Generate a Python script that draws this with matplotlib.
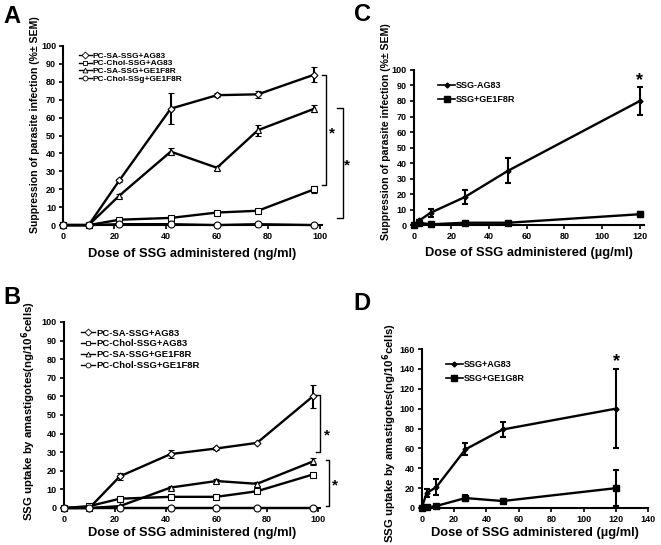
import matplotlib
matplotlib.use("Agg")
import matplotlib.pyplot as plt
from matplotlib.lines import Line2D

plt.rcParams['font.family'] = ['Liberation Sans', 'DejaVu Sans']
plt.rcParams['font.weight'] = 'bold'
plt.rcParams['mathtext.default'] = 'bf'

# panel A / B doses (ng/ml)
dose_ng = [0, 10, 22, 42, 60, 76, 98]
# panel C / D doses (ug/ml)
dose_ug = [0, 3, 9, 27, 50, 120]

# A: suppression of parasite infection
a_sa_ag = [0, 0, 25, 65, 72.5, 73, 84]
a_sa_ag_err = [0, 0, 0.8, 8.5, 1, 2, 4]
a_chol_ag = [0, 0, 3, 4, 7, 8, 20]
a_chol_ag_err = [0, 0, 0, 0, 0, 0, 2]
a_sa_ge = [0, 0, 16.5, 41, 32, 53, 65]
a_sa_ge_err = [0, 0, 0.8, 2, 1, 3, 2]
a_chol_ge = [0, 0, 0.5, 0.5, 0, 0.5, 0]

# B: SSG uptake
b_sa_ag = [0, 0, 17, 29, 32, 35, 60]
b_sa_ag_err = [0, 0, 2, 2, 1, 0, 6]
b_chol_ag = [0, 1, 5, 6, 6, 9, 18]
b_sa_ge = [0, 0, 1, 11, 14.5, 13, 25]
b_sa_ge_err = [0, 0, 0, 1, 1, 1, 2]
b_chol_ge = [0, 0, 0, 0, 0, 0, 0]

# C: free SSG suppression
c_ag = [0, 3, 8, 18, 35, 80]
c_ag_err = [0, 0, 2.5, 4.5, 8, 9]
c_ge = [0, 1.5, 0.5, 1.5, 1.5, 7]
c_ge_err = [0, 0, 0, 0, 0, 1.5]

# D: free SSG uptake
d_ag = [0, 15, 21, 59, 79, 100]
d_ag_err = [0, 4, 8, 6, 8, 40]
d_ge = [0, 0.5, 2, 10, 7, 20]
d_ge_err = [0, 0, 0, 3, 2, 18]

leg_a = ['PC-SA-SSG+AG83', 'PC-Chol-SSG+AG83', 'PC-SA-SSG+GE1F8R', 'PC-Chol-SSg+GE1F8R']
leg_b = ['PC-SA-SSG+AG83', 'PC-Chol-SSG+AG83', 'PC-SA-SSG+GE1F8R', 'PC-Chol-SSG+GE1F8R']
leg_c = ['SSG-AG83', 'SSG+GE1F8R']
leg_d = ['SSG+AG83', 'SSG+GE1G8R']

xlab_ng = 'Dose of SSG administered (ng/ml)'
xlab_ug = 'Dose of SSG administered (\u00b5g/ml)'
ylab_sup = 'Suppression of parasite infection (%\u00b1 SEM)'
ylab_up = 'SSG uptake by amastigotes(ng/10$^{6}$cells)'

fig = plt.figure(figsize=(6.61, 5.45), dpi=100)
axA = fig.add_axes([0.0953, 0.587, 0.392, 0.3287])
axC = fig.add_axes([0.626, 0.587, 0.3476, 0.2846])
axB = fig.add_axes([0.0968, 0.0679, 0.388, 0.3413])
axD = fig.add_axes([0.638, 0.0679, 0.343, 0.2917])

ebkw = dict(color='black', lw=1.7, capsize=2.5, elinewidth=1.5, capthick=1.5)


def style(ax):
    for s in ['top', 'right']:
        ax.spines[s].set_visible(False)
    for s in ['left', 'bottom']:
        ax.spines[s].set_linewidth(1.5)
    ax.tick_params(direction='out', length=3, width=1.2, labelsize=6.5, pad=2)
    for t in ax.get_xticklabels() + ax.get_yticklabels():
        t.set_fontweight('bold')


def liposome_panel(ax, ys, errs, labels, ylab, ylsize, lfs, spacing, xpad):
    markers = ['D', 's', '^', 'o']
    sizes = [3.5, 5, 5, 5]
    handles = []
    for y, e, lab, m, ms in zip(ys, errs, labels, markers, sizes):
        ax.errorbar(dose_ng, y, yerr=e, marker=m, ms=ms, mfc='white', mec='black',
                    mew=0.8, clip_on=False, zorder=3, **ebkw)
        handles.append(Line2D([], [], color='black', lw=1, marker=m, ms=3.5,
                              mfc='white', mec='black', mew=0.6, label=lab))
    ax.set_xlim(0, 101)
    ax.set_ylim(0, 100)
    ax.set_xticks(range(0, 101, 20))
    ax.set_yticks(range(0, 101, 10))
    ax.set_xlabel(xlab_ng, fontsize=9.3, fontweight='bold', labelpad=xpad)
    ax.set_ylabel(ylab, fontsize=ylsize, fontweight='bold')
    ax.legend(handles=handles, loc='upper left', bbox_to_anchor=(0.04, 1.0), frameon=False,
              fontsize=lfs, handlelength=1.5, handletextpad=0.1, labelspacing=spacing,
              borderaxespad=0.3)
    style(ax)


def bracket(ax, x0, x1, y0, y1, xs, ys):
    ax.plot([x0, x1, x1, x0], [y1, y1, y0, y0], color='black', lw=1, clip_on=False)
    ax.text(xs, ys, '*', fontsize=11, fontweight='bold', ha='center', va='center')


def free_panel(ax, y1, e1, y2, e2, labels, xpad):
    ax.errorbar(dose_ug, y1, yerr=e1, marker='D', ms=2.5, mfc='black', mec='black',
                clip_on=False, zorder=3, **ebkw)
    ax.errorbar(dose_ug, y2, yerr=e2, marker='s', ms=5, mfc='black', mec='black',
                clip_on=False, zorder=3, **ebkw)
    handles = [Line2D([], [], color='black', lw=1.2, marker='D', ms=2.5, label=labels[0]),
               Line2D([], [], color='black', lw=1.2, marker='s', ms=4, label=labels[1])]
    ax.legend(handles=handles, loc='upper left', bbox_to_anchor=(0.07, 0.98), frameon=False,
              fontsize=6.5, handlelength=1.9, handletextpad=0.1, labelspacing=0.55)
    ax.set_xlabel(xlab_ug, fontsize=9.3, fontweight='bold', labelpad=xpad)


# A
liposome_panel(axA, [a_sa_ag, a_chol_ag, a_sa_ge, a_chol_ge],
               [a_sa_ag_err, a_chol_ag_err, a_sa_ge_err, None], leg_a, ylab_sup, 7.6, 6, 0.0, 5)
bracket(axA, 100.8, 102.7, 22.3, 83.8, 105, 51)
bracket(axA, 107, 109, 3.9, 65.4, 110.8, 33.5)
axA.yaxis.set_label_coords(-0.09, 0.56)
fig.text(0.005, 0.99, 'A', fontsize=17, fontweight='bold', va='top')

# B
liposome_panel(axB, [b_sa_ag, b_chol_ag, b_sa_ge, b_chol_ge],
               [b_sa_ag_err, None, b_sa_ge_err, None], leg_b, ylab_up, 8.2, 6.8, 0.2, 2)
bracket(axB, 99.2, 100.8, 30.1, 60.8, 103.5, 39)
bracket(axB, 103, 104.5, 1.1, 25.8, 106.8, 12)
axB.yaxis.set_label_coords(-0.1, 0.52)
fig.text(0.005, 0.475, 'B', fontsize=17, fontweight='bold', va='top')

# C
free_panel(axC, c_ag, c_ag_err, c_ge, c_ge_err, leg_c, 4)
axC.text(120, 93, '*', fontsize=13, fontweight='bold', ha='center', va='center')
axC.set_xlim(0, 122)
axC.set_ylim(0, 100)
axC.set_xticks(range(0, 121, 20))
axC.set_yticks(range(0, 101, 10))
axC.set_ylabel(ylab_sup, fontsize=7.6, fontweight='bold')
axC.yaxis.set_label_coords(-0.1, 0.6)
style(axC)
fig.text(0.535, 0.995, 'C', fontsize=17, fontweight='bold', va='top')

# D
free_panel(axD, d_ag, d_ag_err, d_ge, d_ge_err, leg_d, 2)
axD.text(120, 147, '*', fontsize=13, fontweight='bold', ha='center', va='center')
axD.set_xlim(0, 140)
axD.set_ylim(0, 160)
axD.set_xticks(range(0, 141, 20))
axD.set_yticks(range(0, 161, 20))
axD.set_ylabel(ylab_up, fontsize=8.2, fontweight='bold')
axD.yaxis.set_label_coords(-0.1, 0.47)
style(axD)
fig.text(0.535, 0.465, 'D', fontsize=17, fontweight='bold', va='top')

fig.savefig('out.png', dpi=100)
